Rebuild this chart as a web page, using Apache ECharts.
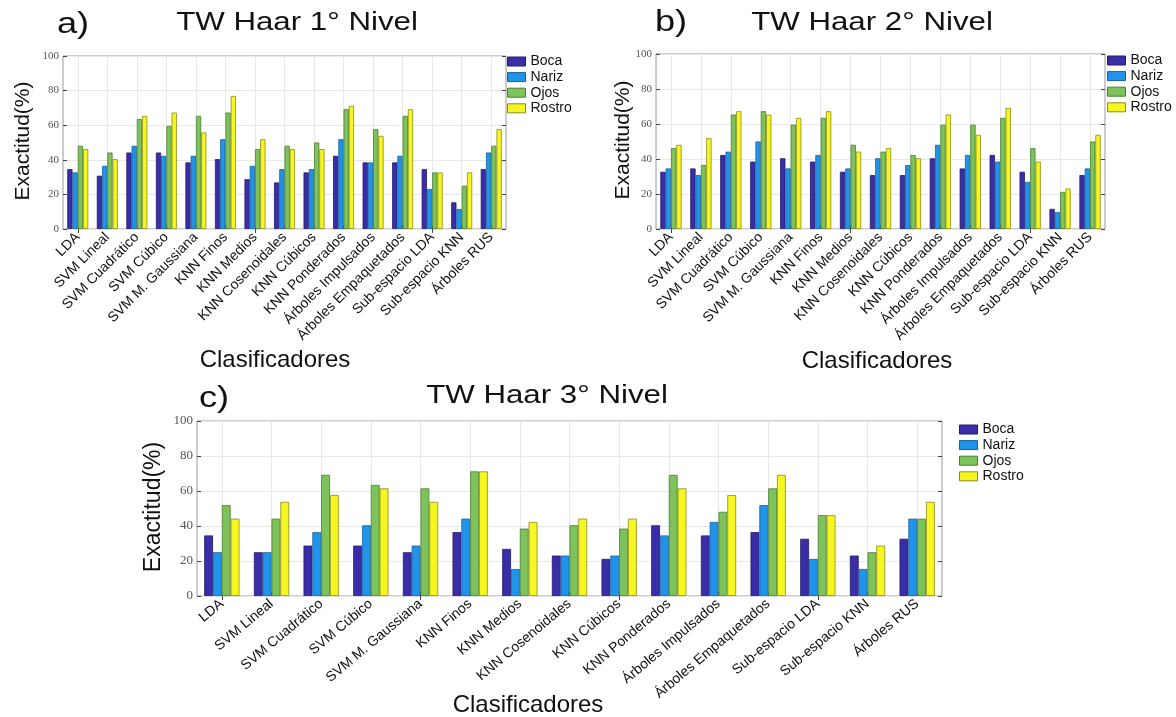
<!DOCTYPE html>
<html>
<head>
<meta charset="utf-8">
<script src="https://cdn.jsdelivr.net/npm/echarts@6/dist/echarts.min.js"></script>
<style>html,body{margin:0;padding:0;background:#fff}#c{width:1176px;height:717px}</style>
</head>
<body>
<div id="c"></div>
<script>
const categories = ['LDA','SVM Lineal','SVM Cuadrático','SVM Cúbico','SVM M. Gaussiana','KNN Finos','KNN Medios','KNN Cosenoidales','KNN Cúbicos','KNN Ponderados','Árboles Impulsados','Árboles Empaquetados','Sub-espacio LDA','Sub-espacio KNN','Árboles RUS'];
const seriesNames = ['Boca','Nariz','Ojos','Rostro'];
const yTicks = [0,20,40,60,80,100];

const bocaA   = [34.6,30.8,44.2,44.2,38.5,40.4,28.8,26.9,32.7,42.3,38.5,38.5,34.6,15.4,34.6];
const narizA  = [32.7,36.5,48.1,42.3,42.3,51.9,36.5,34.6,34.6,51.9,38.5,42.3,23.1,11.5,44.2];
const ojosA   = [48.1,44.2,63.5,59.6,65.4,67.3,46.2,48.1,50.0,69.2,57.7,65.4,32.7,25.0,48.1];
const rostroA = [46.2,40.4,65.4,67.3,55.8,76.9,51.9,46.2,46.2,71.2,53.8,69.2,32.7,32.7,57.7];

const bocaB   = [32.7,34.6,42.3,38.5,40.4,38.5,32.7,30.8,30.8,40.4,34.6,42.3,32.7,11.5,30.8];
const narizB  = [34.6,30.8,44.2,50.0,34.6,42.3,34.6,40.4,36.5,48.1,42.3,38.5,26.9,9.6,34.6];
const ojosB   = [46.2,36.5,65.4,67.3,59.6,63.5,48.1,44.2,42.3,59.6,59.6,63.5,46.2,21.2,50.0];
const rostroB = [48.1,51.9,67.3,65.4,63.5,67.3,44.2,46.2,40.4,65.4,53.8,69.2,38.5,23.1,53.8];

const bocaC   = [34.6,25.0,28.8,28.8,25.0,36.5,26.9,23.1,21.2,40.4,34.6,36.5,32.7,23.1,32.7];
const narizC  = [25.0,25.0,36.5,40.4,28.8,44.2,15.4,23.1,23.1,34.6,42.3,51.9,21.2,15.4,44.2];
const ojosC   = [51.9,44.2,69.2,63.5,61.5,71.2,38.5,40.4,38.5,69.2,48.1,61.5,46.2,25.0,44.2];
const rostroC = [44.2,53.8,57.7,61.5,53.8,71.2,42.3,44.2,44.2,61.5,57.7,69.2,46.2,28.8,53.8];

const panelData = [
  [bocaA, narizA, ojosA, rostroA],
  [bocaB, narizB, ojosB, rostroB],
  [bocaC, narizC, ojosC, rostroC]
];

const colors = ['#3a2ea8','#2094ea','#7dc25a','#f6f620'];
const borders = ['#221a6a','#17609c','#4b7d33','#8c8c1c'];
const SANS = 'Liberation Sans, Arial, sans-serif';
const SERIF = 'Liberation Serif, Times New Roman, serif';

const grids = [
  {left:63, top:56, width:443, height:173},
  {left:656, top:54, width:449, height:175},
  {left:197, top:421, width:745, height:175}
];
const rot = [45,45,40];
const tickFont = [11,11,13];

const option = {
  animation:false,
  backgroundColor:'#fff',
  grid: grids.map(g => Object.assign({show:true, borderColor:'#9a9a9a', borderWidth:1, backgroundColor:'#fff'}, g)),
  xAxis: [], yAxis: [], series: [],
  legend: [
    {left:507, top:54}, {left:1107, top:53}, {left:959, top:422}
  ].map(p => Object.assign({
    orient:'vertical', data:seriesNames, icon:'rect', itemWidth:18, itemHeight:9, itemGap:0.6, padding:0,
    textStyle:{fontFamily:SANS, fontSize:14, color:'#111', lineHeight:15},
    itemStyle:{borderWidth:1}
  }, p)),
  graphic: []
};

for (let p = 0; p < 3; p++) {
  option.xAxis.push({
    type:'category', gridIndex:p, data:categories, position:'bottom',
    axisLine:{show:false}, axisTick:{show:true, inside:true, length:4, alignWithLabel:true, lineStyle:{color:'#444'}},
    splitLine:{show:true, alignWithLabel:true, lineStyle:{color:'#e8e8e8'}},
    axisLabel:{interval:0, rotate:rot[p], margin:6, fontFamily:SANS, fontSize:14, color:'#111'}
  });
  option.xAxis.push({
    type:'category', gridIndex:p, data:categories, position:'top',
    axisLine:{show:false}, axisTick:{show:true, inside:true, length:4, alignWithLabel:true, lineStyle:{color:'#444'}},
    axisLabel:{show:false}, splitLine:{show:false}
  });
  option.yAxis.push({
    type:'value', gridIndex:p, min:0, max:100, interval:20, position:'left',
    axisLine:{show:false}, axisTick:{show:true, inside:true, length:4, lineStyle:{color:'#444'}},
    splitLine:{show:true, lineStyle:{color:'#e8e8e8'}},
    axisLabel:{margin:4, fontFamily:SERIF, fontSize:tickFont[p], color:'#555',
      formatter: v => yTicks.indexOf(v) >= 0 ? String(v) : ''}
  });
  option.yAxis.push({
    type:'value', gridIndex:p, min:0, max:100, interval:20, position:'right',
    axisLine:{show:false}, axisTick:{show:true, inside:true, length:4, lineStyle:{color:'#444'}},
    splitLine:{show:false}, axisLabel:{show:false}
  });
  for (let s = 0; s < 4; s++) {
    option.series.push({
      type:'bar', name:seriesNames[s], xAxisIndex:p*2, yAxisIndex:p*2,
      data:panelData[p][s], barGap:'0%', barCategoryGap:'29%',
      itemStyle:{color:colors[s], borderColor:borders[s], borderWidth:0.8}
    });
  }
}

function txt(text, x, y, size, rotation, sx) {
  return {type:'text', x:x, y:y, rotation:rotation||0, scaleX:sx||1,
    style:{text:text, fontFamily:SANS, fontSize:size, fill:'#111', align:'center', verticalAlign:'middle'}};
}
option.graphic = [
  txt('a)', 73, 25, 29, 0, 1.25), txt('TW Haar 1° Nivel', 297, 23, 25, 0, 1.25),
  txt('b)', 671, 23, 29, 0, 1.25), txt('TW Haar 2° Nivel', 872, 23, 25, 0, 1.25),
  txt('c)', 214, 399, 29, 0, 1.25), txt('TW Haar 3° Nivel', 547, 396, 25, 0, 1.25),
  txt('Exactitud(%)', 23, 141, 21, Math.PI/2),
  txt('Exactitud(%)', 623, 140, 21, Math.PI/2),
  txt('Exactitud(%)', 154, 507, 23, Math.PI/2),
  txt('Clasificadores', 275, 360, 24),
  txt('Clasificadores', 877, 361, 24),
  txt('Clasificadores', 528, 705, 24)
];

const chart = echarts.init(document.getElementById('c'), null, {renderer:'canvas'});
chart.setOption(option);
</script>
</body>
</html>
